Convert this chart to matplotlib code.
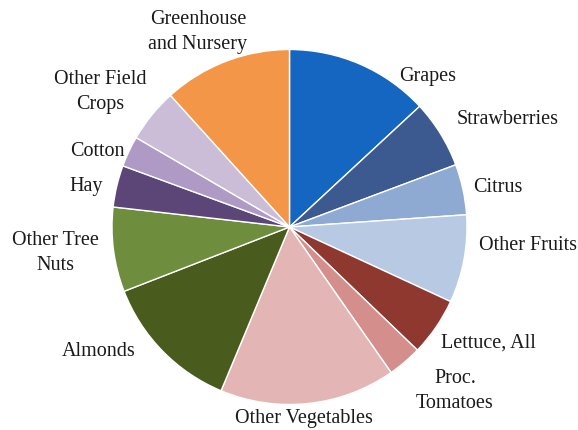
import matplotlib.pyplot as plt

crops = [
    "Grapes", "Strawberries", "Citrus", "Other Fruits", "Lettuce, All",
    "Proc.\nTomatoes", "Other Vegetables", "Almonds", "Other Tree\nNuts",
    "Hay", "Cotton", "Other Field\nCrops", "Greenhouse\nand Nursery",
]
shares = [13.1, 6.2, 4.6, 8.0, 5.3, 3.1, 16.0, 12.8, 7.7, 3.8, 2.8, 4.9, 11.7]

colors = [
    "#1566C0", "#3C5990", "#8EAAD3", "#B7C9E3", "#8E3830", "#D48E8B",
    "#E3B6B5", "#4A5B1E", "#6E8D3D", "#5C4577", "#AF99C5", "#CBBDD7",
    "#F49647",
]

# label centres in pixels from top-left of the figure
label_px = [
    (428, 77), (508, 120), (498, 187), (528, 245), (488, 343),
    (455, 391), (304, 418), (99, 352), (55, 253), (86, 186),
    (97, 152), (100, 92), (198, 32),
]

W, H = 578, 430
cx, cy, radius = 289.5, 227, 177.5

fig = plt.figure(figsize=(W / 100, H / 100), dpi=100)
ax = fig.add_axes([0, 0, 1, 1])
ax.pie(
    shares,
    colors=colors,
    startangle=90,
    counterclock=False,
    center=(cx, H - cy),
    radius=radius,
    wedgeprops={"edgecolor": "white", "linewidth": 1.0},
)
ax.set_xlim(0, W)
ax.set_ylim(0, H)
ax.set_aspect("equal", adjustable="box")
ax.axis("off")

for name, (x, y) in zip(crops, label_px):
    ax.text(x, H - y, name, ha="center", va="center", fontsize=14.5,
            family="Liberation Serif", color="#1a1a1a", linespacing=1.42)

fig.savefig("out.png", dpi=100, facecolor="white")
